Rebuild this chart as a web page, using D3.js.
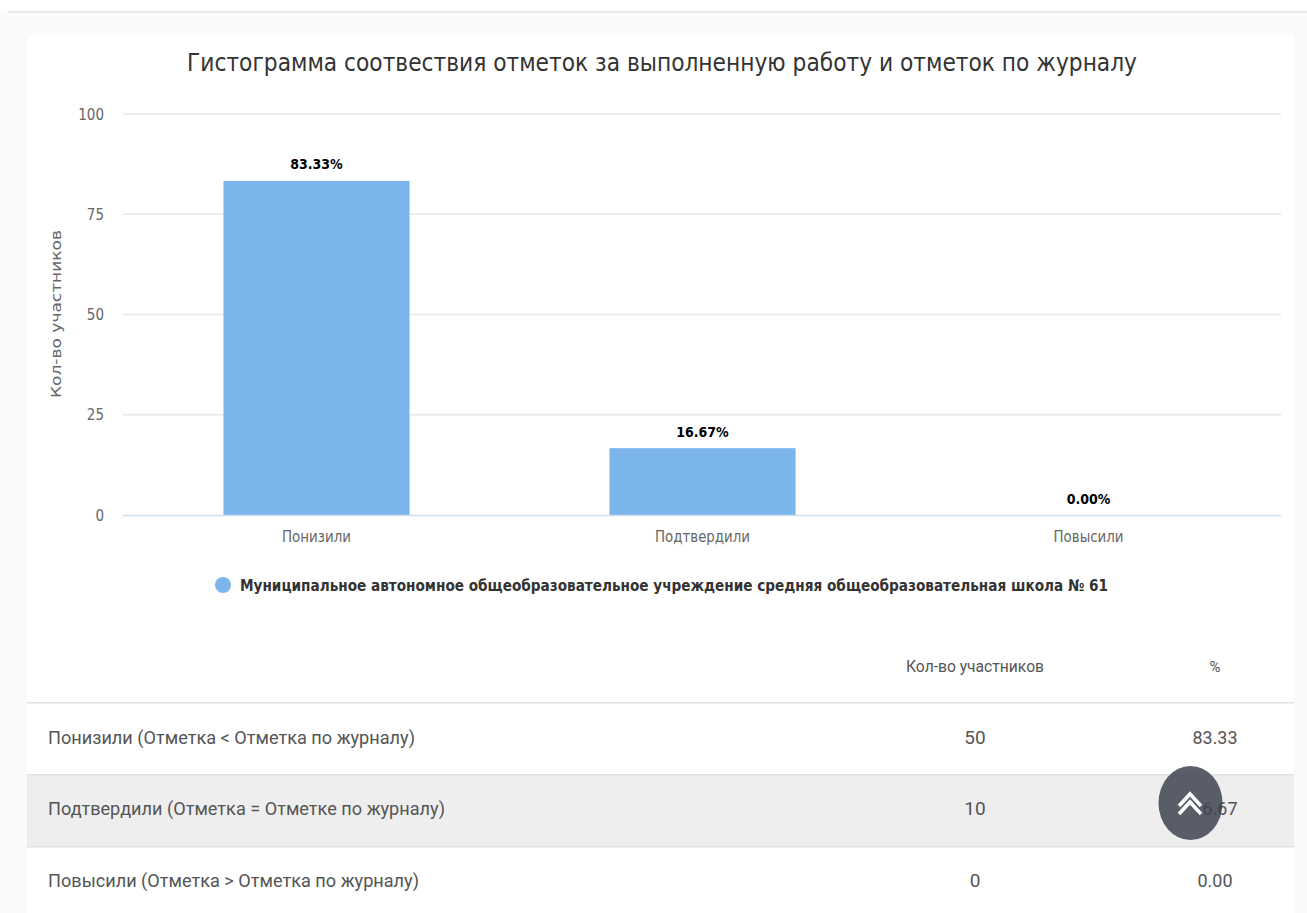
<!DOCTYPE html>
<html><head><meta charset="utf-8">
<script src="https://d3js.org/d3.v7.min.js"></script>
<style>
html,body{margin:0;padding:0;background:#fff;overflow:hidden}
svg{display:block}
.cond{font-family:"DejaVu Sans Condensed","DejaVu Sans",sans-serif;font-stretch:condensed}
.tb{font-family:Roboto,sans-serif}
</style></head><body>
<div id="chart"></div>
<script>
const titleText="Гистограмма соотвествия отметок за выполненную работу и отметок по журналу";
const categories=["Понизили","Подтвердили","Повысили"];
const percentValues=[83.33,16.67,0];
const percentLabels=["83.33%","16.67%","0.00%"];
const yTicks=[0,25,50,75,100];
const yAxisTitle="Кол-во участников";
const legendName="Муниципальное автономное общеобразовательное учреждение средняя общеобразовательная школа № 61";
const tableHeaders=["Кол-во участников","%"];
const rowLabels=["Понизили (Отметка < Отметка по журналу)","Подтвердили (Отметка = Отметке по журналу)","Повысили (Отметка > Отметка по журналу)"];
const rowCounts=["50","10","0"];
const rowPercents=["83.33","16.67","0.00"];

const W=1307,H=913;
const svg=d3.select("#chart").append("svg").attr("width",W).attr("height",H);
svg.append("rect").attr("width",W).attr("height",H).attr("fill","#fafafa");
svg.append("rect").attr("width",W).attr("height",11).attr("fill","#fff");
svg.append("rect").attr("x",8).attr("y",11).attr("width",W-8).attr("height",2).attr("fill","#e8e8e8");
svg.append("rect").attr("x",27).attr("y",35).attr("width",1267).attr("height",H-35).attr("fill","#fff");

function fit(sel,len){return sel.attr("textLength",len).attr("lengthAdjust","spacingAndGlyphs");}

fit(svg.append("text").attr("class","cond").attr("x",662).attr("y",71).attr("text-anchor","middle")
 .attr("font-size",25).attr("fill","#333333").text(titleText),950);

const x=d3.scaleBand().domain(categories).range([123.5,1281.5]).paddingInner(0.518).paddingOuter(0.259);
const y=d3.scaleLinear().domain([0,100]).range([515,114]);

svg.append("g").selectAll("line").data(yTicks.filter(d=>d>0)).join("line")
 .attr("x1",123).attr("x2",1281).attr("y1",d=>y(d)).attr("y2",d=>y(d))
 .attr("stroke","#e8e8e8").attr("stroke-width",1.3);
svg.append("g").selectAll("text").data(yTicks).join("text").attr("class","cond")
 .attr("x",104).attr("y",d=>y(d)+5.5).attr("text-anchor","end").attr("font-size",15).attr("fill","#666666").text(d=>d);

svg.append("g").selectAll("rect").data(categories).join("rect")
 .attr("x",d=>x(d)).attr("width",x.bandwidth())
 .attr("y",(d,i)=>y(percentValues[i])).attr("height",(d,i)=>y(0)-y(percentValues[i]))
 .attr("fill","#7cb5ec");
svg.append("line").attr("x1",123).attr("x2",1281).attr("y1",y(0)+.5).attr("y2",y(0)+.5).attr("stroke","#d0dfee").attr("stroke-width",1.5);

svg.append("g").selectAll("text").data(categories).join("text").attr("class","cond")
 .attr("x",d=>x(d)+x.bandwidth()/2).attr("y",(d,i)=>y(percentValues[i])-11.5).attr("text-anchor","middle")
 .attr("font-size",14).attr("font-weight","bold").attr("fill","#000").text((d,i)=>percentLabels[i]);

const catW=[69,95,70];
svg.append("g").selectAll("text").data(categories).join("text").attr("class","cond")
 .attr("x",d=>x(d)+x.bandwidth()/2).attr("y",542).attr("text-anchor","middle")
 .attr("font-size",15).attr("fill","#666666").attr("textLength",(d,i)=>catW[i]).attr("lengthAdjust","spacingAndGlyphs").text(d=>d);

fit(svg.append("text").attr("class","cond").attr("transform","translate(61,314) rotate(-90)").attr("text-anchor","middle")
 .attr("font-size",14).attr("fill","#666666").text(yAxisTitle),168);

svg.append("circle").attr("cx",223).attr("cy",585).attr("r",8).attr("fill","#7cb5ec");
fit(svg.append("text").attr("class","cond").attr("x",240).attr("y",591).attr("font-size",16).attr("font-weight","bold").attr("fill","#333333").text(legendName),868);

const rowY=[702,774,846];
const rowBase=[744,815,887];
svg.append("rect").attr("x",27).attr("y",774).attr("width",1267).attr("height",72).attr("fill","#eeeeee");
rowY.forEach(v=>svg.append("rect").attr("x",27).attr("y",v).attr("width",1267).attr("height",1.5).attr("fill","#e2e2e2"));
fit(svg.append("text").attr("class","tb").attr("x",975).attr("y",672).attr("text-anchor","middle").attr("font-size",17).attr("fill","#555").text(tableHeaders[0]),138);
svg.append("text").attr("class","tb").attr("x",1215).attr("y",672).attr("text-anchor","middle").attr("font-size",15).attr("fill","#555").text(tableHeaders[1]);
const rowW=[367,397,371];
const pctW=[45,45,35];
rowLabels.forEach((t,i)=>{
 const by=rowBase[i];
 fit(svg.append("text").attr("class","tb").attr("x",48).attr("y",by).attr("font-size",19).attr("fill","#555").text(t),rowW[i]);
 svg.append("text").attr("class","tb").attr("x",975).attr("y",by).attr("text-anchor","middle").attr("font-size",19).attr("fill","#555").text(rowCounts[i]);
 fit(svg.append("text").attr("class","tb").attr("x",1215).attr("y",by).attr("text-anchor","middle").attr("font-size",19).attr("fill","#555").text(rowPercents[i]),pctW[i]);
});

svg.append("ellipse").attr("cx",1190.5).attr("cy",803).attr("rx",32).attr("ry",37).attr("fill","#3d4350").attr("opacity",.85);
[-5,3].forEach(o=>{
 const cy=804+o;
 svg.append("path").attr("d",`M1179,${cy+7}L1190,${cy-5}L1201,${cy+7}`).attr("fill","none").attr("stroke","#fff").attr("stroke-width",3.6);
});
</script></body></html>
